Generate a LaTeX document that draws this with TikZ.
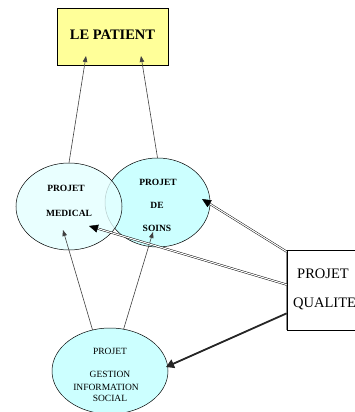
\documentclass[tikz,border=0pt]{standalone}
\usepackage{fontspec}
\setmainfont{Liberation Serif}
\usetikzlibrary{arrows.meta,shapes.geometric}
\definecolor{patientfill}{HTML}{FFFF99}
\definecolor{cyanfill}{HTML}{CCFFFF}
\definecolor{medfill}{HTML}{E4FFFF}
\tikzset{
  ell/.style={ellipse, draw=black, line width=0.5pt, inner sep=0pt},
  thinarrow/.style={draw=black!75, line width=0.6pt, -{Triangle[length=6pt,width=4.5pt]}},
  dblarrow/.style={draw=black, line width=0.45pt, double=white, double distance=1.1pt, -{Triangle[length=9pt,width=8pt]}},
  thickarrow/.style={draw=black!85, line width=1.8pt, -{Triangle[length=8pt,width=9pt]}},
  boldtxt/.style={font=\fontsize{9.5}{11}\selectfont\bfseries, inner sep=0pt},
  smalltxt/.style={font=\fontsize{9.5}{11}\selectfont, inner sep=0pt},
  qtxt/.style={font=\fontsize{14.5}{17}\selectfont, inner sep=0pt, anchor=base west},
}
\begin{document}
\begin{tikzpicture}[x=1pt,y=-1pt]
\useasboundingbox (0,0) rectangle (355,412);
\clip (0,0) rectangle (355,412);
\fill[white] (0,0) rectangle (355,412);

% nodes
\node[draw=black, line width=0.7pt, fill=patientfill, minimum width=111pt, minimum height=57pt, inner sep=0pt,
      font=\fontsize{14.5}{17}\selectfont\bfseries] (pat) at (112.5,36.5) {\raisebox{4pt}{LE PATIENT}};

\node[ell, fill=cyanfill, minimum width=105pt, minimum height=89pt] (soins) at (157.5,202.5) {};
\node[ell, fill=medfill, fill opacity=0.8, minimum width=106pt, minimum height=87pt] (med) at (69,206.5) {};

\node[ell, fill=cyanfill, minimum width=116pt, minimum height=86pt] (ges) at (110,371) {};

\node[draw=black, line width=0.7pt, fill=white, minimum width=84pt, minimum height=80pt, inner sep=0pt] (qual) at (329,290) {};
\draw[black!45, line width=1.2pt] (qual.south west) -- (qual.north west);

% texts
\node[boldtxt, anchor=base] (t1) at (66,191) {PROJET};
\node[boldtxt, anchor=base] (t2) at (69,216) {MEDICAL};
\node[boldtxt, anchor=base] (t3) at (158,185) {PROJET};
\node[boldtxt, anchor=base] (t4) at (157,208) {DE};
\node[boldtxt, anchor=base] (t5) at (157,231) {SOINS};

\node[smalltxt, anchor=base] (g1) at (110,354) {PROJET};
\node[smalltxt, anchor=base] (g2) at (110,377) {GESTION};
\node[smalltxt, anchor=base] (g3) at (106,390) {INFORMATION};
\node[smalltxt, anchor=base] (g4) at (110,401) {SOCIAL};

\node[qtxt] (q1) at (297,278) {PROJET};
\node[qtxt] (q2) at (293,307) {QUALITE};

% tip coordinates
\coordinate (tipP1) at (86,56);
\coordinate (tipP2) at (141,56);
\coordinate (tipM) at (63,230);
\coordinate (tipS) at (153,232);
\coordinate (tipMq) at (89,226);
\coordinate (tipSq) at (202,199);
\coordinate (tipG) at (166,367);

\coordinate (qa) at ([yshift=-2pt]qual.north west);
\coordinate (qb) at ([yshift=-35pt]qual.north west);
\coordinate (qc) at ([yshift=17pt]qual.south west);

% connectors
\draw[thinarrow] (med.north) -- (tipP1);
\draw[thinarrow] (soins.north) -- (tipP2);
\draw[thinarrow] (ges.113) -- (tipM);
\draw[thinarrow] (ges.72) -- (tipS);
\draw[dblarrow] (qa) -- (tipSq);
\draw[dblarrow] (qb) -- (tipMq);
\draw[thickarrow] (qc) -- (tipG);
\end{tikzpicture}
\end{document}
